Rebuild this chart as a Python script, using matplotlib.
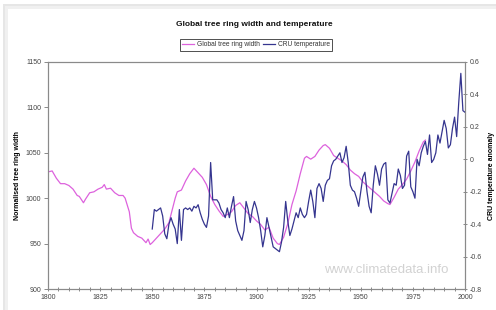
import matplotlib
matplotlib.use("Agg")
import matplotlib.pyplot as plt
from matplotlib.patches import Rectangle
from matplotlib.ticker import MultipleLocator, FuncFormatter

plt.rcParams['font.family'] = ['Liberation Sans', 'DejaVu Sans']

# Global tree ring width (normalised)
ring_years = [1800, 1802, 1804, 1806, 1808, 1810, 1812, 1814, 1815, 1817, 1818, 1820,
              1822, 1824, 1826, 1827, 1828, 1830, 1832, 1834, 1836, 1837, 1839, 1840,
              1841, 1843, 1845, 1847, 1848, 1849, 1850, 1852, 1854, 1856, 1858, 1859,
              1861, 1862, 1864, 1866, 1868, 1870, 1872, 1874, 1876, 1878, 1880, 1882,
              1884, 1886, 1888, 1890, 1892, 1894, 1896, 1898, 1900, 1902, 1904, 1906,
              1908, 1910, 1911, 1913, 1915, 1917, 1919, 1921, 1923, 1924, 1926, 1928,
              1930, 1932, 1933, 1935, 1937, 1939, 1941, 1943, 1945, 1947, 1949, 1951,
              1953, 1955, 1957, 1959, 1961, 1963, 1964, 1966, 1968, 1970, 1972, 1974,
              1976, 1978, 1980, 1981]
ring_width = [1029, 1030, 1022, 1016, 1016, 1014, 1010, 1003, 1002, 995, 999, 1006,
              1007, 1010, 1012, 1015, 1010, 1011, 1006, 1003, 1003, 1000, 985, 967,
              962, 958, 956, 951, 955, 949, 951, 956, 961, 966, 973, 982,
              1000, 1007, 1009, 1019, 1027, 1033, 1028, 1023, 1015, 1002, 993, 986,
              980, 982, 985, 992, 995, 989, 983, 980, 975, 971, 965, 968,
              956, 950, 949, 957, 972, 993, 1008, 1027, 1044, 1046, 1043, 1046,
              1053, 1058, 1059, 1055, 1047, 1044, 1041, 1037, 1031, 1027, 1024, 1018,
              1014, 1010, 1006, 1002, 997, 994, 993, 1001, 1010, 1015, 1021, 1030,
              1040, 1052, 1062, 1064]

# CRU temperature anomaly, annual 1850-2000
temp_years = list(range(1850, 2001))
temp_anom = [-0.43, -0.31, -0.32, -0.31, -0.30, -0.35, -0.46, -0.49, -0.40, -0.36,
             -0.40, -0.43, -0.52, -0.31, -0.50, -0.31, -0.30, -0.31, -0.30, -0.32,
             -0.29, -0.30, -0.28, -0.33, -0.37, -0.40, -0.42, -0.35, -0.02, -0.25,
             -0.25, -0.25, -0.27, -0.31, -0.33, -0.36, -0.30, -0.36, -0.29, -0.23,
             -0.38, -0.44, -0.47, -0.50, -0.44, -0.26, -0.31, -0.39, -0.31, -0.26,
             -0.30, -0.36, -0.44, -0.54, -0.47, -0.36, -0.42, -0.48, -0.54, -0.55,
             -0.56, -0.57, -0.51, -0.42, -0.26, -0.38, -0.47, -0.43, -0.38, -0.33,
             -0.36, -0.30, -0.34, -0.36, -0.34, -0.26, -0.19, -0.26, -0.36, -0.18,
             -0.15, -0.18, -0.26, -0.16, -0.13, -0.12, -0.04, -0.01, 0.00, 0.02,
             0.04, -0.02, 0.01, 0.08, -0.02, -0.16, -0.19, -0.20, -0.24, -0.29,
             -0.20, -0.11, -0.08, -0.20, -0.29, -0.33, -0.16, -0.04, -0.09, -0.16,
             -0.06, -0.03, -0.02, -0.25, -0.27, -0.21, -0.15, -0.16, -0.06, -0.10,
             -0.18, -0.16, 0.02, 0.05, -0.17, -0.20, -0.24, 0.00, -0.04, 0.04,
             0.08, 0.11, 0.03, 0.15, -0.02, 0.00, 0.04, 0.15, 0.10, 0.17,
             0.24, 0.19, 0.07, 0.09, 0.19, 0.26, 0.14, 0.35, 0.53, 0.30,
             0.29]

W, H = 496, 310
fig = plt.figure(figsize=(W / 100, H / 100), dpi=100)
fig.patch.set_facecolor('white')

# soft screenshot shadow along the top and left edge
fig.patches.append(Rectangle((3 / W, 0), 1, 1 - 4 / H, transform=fig.transFigure,
                             facecolor='#e6e6e6', edgecolor='none', zorder=-3))
fig.patches.append(Rectangle((5 / W, 0), 1, 1 - 6 / H, transform=fig.transFigure,
                             facecolor='#f0f0f0', edgecolor='none', zorder=-2))
fig.patches.append(Rectangle((8 / W, 0), 1, 1 - 9 / H, transform=fig.transFigure,
                             facecolor='white', edgecolor='none', zorder=-1))

ax = fig.add_axes([48 / W, 1 - 289 / H, (465 - 48) / W, (289 - 62) / H])
ax.set_facecolor('none')
ax2 = ax.twinx()

l1, = ax.plot(ring_years, ring_width, color='#dd62dd', lw=0.9)
l2, = ax2.plot(temp_years, temp_anom, color='#35358f', lw=0.9)

ax.set_xlim(1800, 2000)
ax.set_ylim(900, 1150)
ax2.set_ylim(-0.8, 0.6)

ax.xaxis.set_major_locator(MultipleLocator(25))
ax.xaxis.set_minor_locator(MultipleLocator(5))
ax.yaxis.set_major_locator(MultipleLocator(50))
ax2.yaxis.set_major_locator(MultipleLocator(0.2))
ax2.yaxis.set_major_formatter(FuncFormatter(lambda v, p: '0' if abs(v) < 1e-9 else f'{v:g}'))

tick_col = '#444444'
ax.tick_params(axis='x', which='both', direction='inout', length=3, width=0.6,
               color='#777777', labelsize=5, labelcolor=tick_col, pad=2)
ax.tick_params(axis='y', direction='out', length=3, width=0.6, color='#777777',
               labelsize=5, labelcolor=tick_col, pad=2)
ax2.tick_params(axis='y', direction='inout', length=3, width=0.6, color='#777777',
                labelsize=5, labelcolor=tick_col, pad=2)

for a in (ax, ax2):
    for s in a.spines.values():
        s.set_color('#8a8a8a')
        s.set_linewidth(0.8)

ax.set_ylabel('Normalised tree ring width', fontsize=5, fontweight='bold', labelpad=3)
ax2.set_ylabel('CRU temperature anomaly', fontsize=5, fontweight='bold',
               rotation=90, labelpad=4)

fig.text(254 / W, 1 - 24 / H, 'Global tree ring width and temperature',
         ha='center', va='center', fontsize=6, fontweight='bold', color='#111111')

leg = fig.legend([l1, l2], ['Global tree ring width', 'CRU temperature'],
                 loc='center', bbox_to_anchor=(256 / W, 1 - 45 / H), ncol=2,
                 fontsize=4.8, frameon=True, fancybox=False, framealpha=1,
                 edgecolor='#333333', handlelength=1.8, handletextpad=0.4,
                 columnspacing=0.5, borderpad=0.35, borderaxespad=0)
leg.get_frame().set_linewidth(0.6)
for t in leg.get_texts():
    t.set_color('#333333')

fig.text(386 / W, 1 - 270 / H, 'www.climatedata.info', ha='center', va='center',
         fontsize=9.5, color='#d2d2d2')

fig.savefig('out.png', dpi=100)
